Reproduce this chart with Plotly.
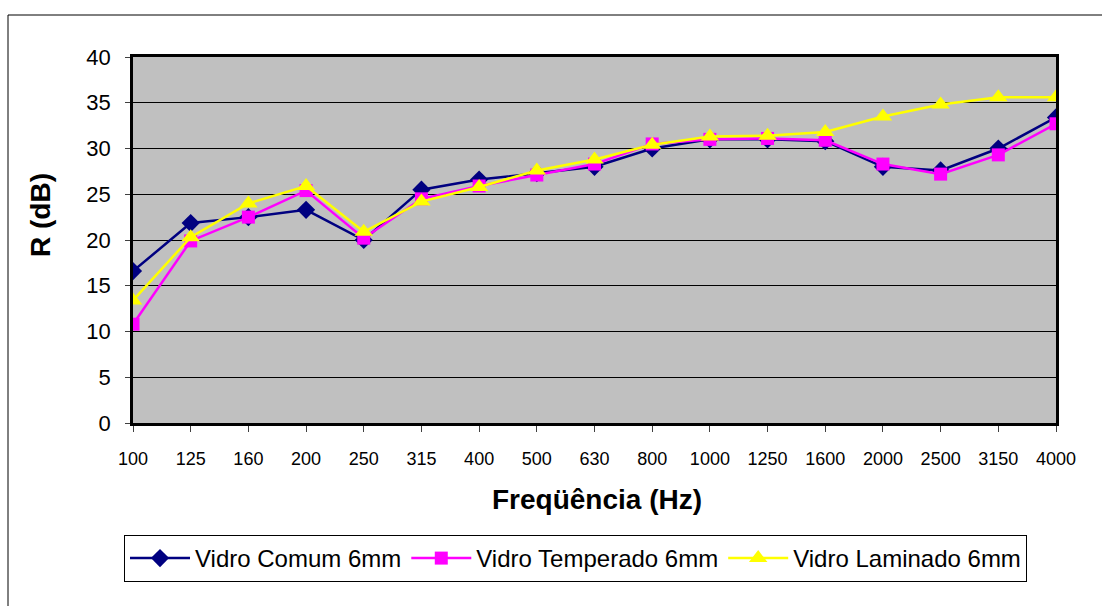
import plotly.graph_objects as go

freqs = ["100", "125", "160", "200", "250", "315", "400", "500", "630", "800",
         "1000", "1250", "1600", "2000", "2500", "3150", "4000"]
comum = [16.6, 21.85, 22.5, 23.3, 20.0, 25.5, 26.6, 27.3, 28.0, 30.0,
         31.0, 31.0, 30.8, 28.0, 27.6, 30.0, 33.4]
temperado = [10.8, 19.9, 22.5, 25.4, 20.2, 24.5, 25.9, 27.1, 28.3, 30.5,
             31.0, 31.1, 30.9, 28.3, 27.2, 29.3, 32.7]
laminado = [13.4, 20.3, 24.0, 25.9, 20.9, 24.2, 25.8, 27.6, 28.8, 30.4,
            31.3, 31.4, 31.8, 33.5, 34.8, 35.6, 35.6]

W, H = 1102, 606
L, R, T, B = 133, 46, 57, 183
pw, ph = W - L - R, H - T - B


def px(x):
    return (x - L) / pw


def py(y):
    return (H - B - y) / ph


fig = go.Figure()
fig.add_trace(go.Scatter(x=freqs, y=comum, mode="lines+markers", name="Vidro Comum 6mm",
                         line=dict(color="#000080", width=2.5),
                         marker=dict(symbol="diamond", size=14, color="#000080")))
fig.add_trace(go.Scatter(x=freqs, y=temperado, mode="lines+markers", name="Vidro Temperado 6mm",
                         line=dict(color="#FF00FF", width=2.5),
                         marker=dict(symbol="square", size=13, color="#FF00FF")))
fig.add_trace(go.Scatter(x=freqs, y=laminado, mode="lines+markers", name="Vidro Laminado 6mm",
                         line=dict(color="#FFFF00", width=2.5),
                         marker=dict(symbol="triangle-up", size=16, color="#FFFF00")))

fig.update_layout(
    width=W, height=H,
    margin=dict(l=L, r=R, t=T, b=B, pad=0),
    paper_bgcolor="white",
    plot_bgcolor="#C0C0C0",
    font=dict(family="Liberation Sans, Arial, sans-serif", color="black"),
    showlegend=True,
    legend=dict(orientation="h", x=px(124), y=py(535), xanchor="left", yanchor="top",
                bgcolor="white", bordercolor="black", borderwidth=1,
                font=dict(size=24), itemwidth=60, tracegroupgap=0),
    xaxis=dict(type="category", range=[0, 16], showgrid=False, zeroline=False,
               showline=True, linecolor="black", linewidth=2.5, mirror=True,
               ticks="outside", ticklen=6, tickcolor="#404040",
               tickfont=dict(size=18), ticklabelstandoff=12),
    yaxis=dict(range=[0, 40], dtick=5, showgrid=True, gridcolor="black", gridwidth=1,
               zeroline=False, showline=True, linecolor="black", linewidth=2.5, mirror=True,
               ticks="outside", ticklen=5, tickcolor="#404040",
               tickfont=dict(size=22), ticklabelstandoff=10),
    annotations=[
        dict(text="<b>R (dB)</b>", x=px(40), y=py(215), xref="paper", yref="paper",
             textangle=-90, showarrow=False, font=dict(size=28), xanchor="center", yanchor="middle"),
        dict(text="<b>Freqüência (Hz)</b>", x=px(597), y=py(500), xref="paper", yref="paper",
             showarrow=False, font=dict(size=28), xanchor="center", yanchor="middle"),
    ],
    shapes=[
        dict(type="rect", xref="paper", yref="paper", x0=px(8), y0=py(650), x1=px(1150), y1=py(15),
             line=dict(color="black", width=1), layer="below"),
    ],
)

fig.write_html("out.html")
